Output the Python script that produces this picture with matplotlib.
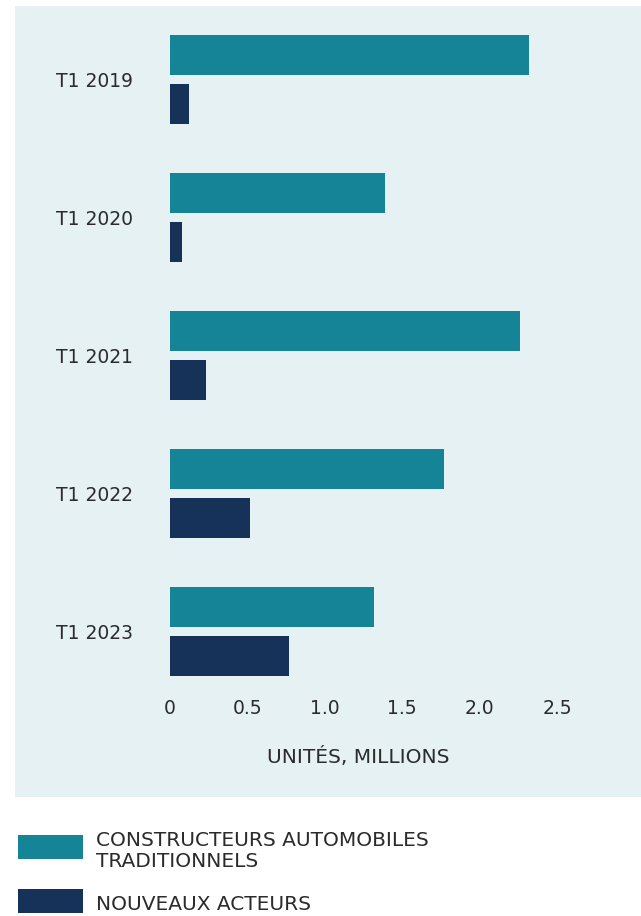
import matplotlib
matplotlib.use('Agg')
import matplotlib.pyplot as plt
from matplotlib.patches import Rectangle
import numpy as np

# data (millions of units, Q1 each year)
periods = ['T1 2019', 'T1 2020', 'T1 2021', 'T1 2022', 'T1 2023']
traditional = [2.32, 1.39, 2.26, 1.77, 1.32]
newcomers = [0.12, 0.08, 0.23, 0.52, 0.77]
xticks = [0, 0.5, 1.0, 1.5, 2.0, 2.5]
xtick_labels = ['0', '0.5', '1.0', '1.5', '2.0', '2.5']
legend_labels = ['CONSTRUCTEURS AUTOMOBILES\nTRADITIONNELS', 'NOUVEAUX ACTEURS']

TEAL = '#168497'
NAVY = '#173258'
PANEL = '#e6f1f4'
TXT = '#2b2b2b'

plt.rcParams['font.family'] = ['DejaVu Sans']
FS = 13.5
FS_CAPS = 14.5

W, H = 641, 916
fig = plt.figure(figsize=(W / 100, H / 100), dpi=100)
fig.patch.set_facecolor('white')

# overlay in pixel coords for panel + legend
bg = fig.add_axes([0, 0, 1, 1], zorder=0)
bg.set_xlim(0, W)
bg.set_ylim(H, 0)
bg.axis('off')
bg.add_patch(Rectangle((15, 6), W - 15, 791, facecolor=PANEL, edgecolor='none'))

# main axes: x 170..557 px (0..2.5), y 10..680 px
left, right, top, bottom = 170, 557, 10, 680
ax = fig.add_axes([left / W, (H - bottom) / H, (right - left) / W, (bottom - top) / H], zorder=1)
ax.patch.set_alpha(0)

period_px = 138.0
c0 = 79.5
ax.set_xlim(0, 2.5)
ax.set_ylim((bottom - c0) / period_px, (top - c0) / period_px)

y = np.arange(len(periods))
bh = 40 / period_px
off = 24.5 / period_px
ax.barh(y - off, traditional, height=bh, color=TEAL, edgecolor='none')
ax.barh(y + off, newcomers, height=bh, color=NAVY, edgecolor='none')

ax.set_yticks(y)
ax.set_yticklabels(periods)
ax.set_xticks(xticks)
ax.set_xticklabels(xtick_labels)
ax.tick_params(axis='y', length=0, pad=27, labelsize=FS, labelcolor=TXT)
ax.tick_params(axis='x', length=0, pad=14, labelsize=FS, labelcolor=TXT)
for s in ax.spines.values():
    s.set_visible(False)

bg.text(358, 757, 'UNITÉS, MILLIONS', ha='center', va='center', fontsize=FS_CAPS, color=TXT)

# legend
bg.add_patch(Rectangle((18, 835), 65, 24, facecolor=TEAL, edgecolor='none'))
bg.add_patch(Rectangle((18, 889), 65, 24, facecolor=NAVY, edgecolor='none'))
bg.text(96, 851, legend_labels[0], ha='left', va='center', fontsize=FS_CAPS, color=TXT,
        linespacing=1.1)
bg.text(96, 904, legend_labels[1], ha='left', va='center', fontsize=FS_CAPS, color=TXT)

fig.savefig('out.png', dpi=100)
